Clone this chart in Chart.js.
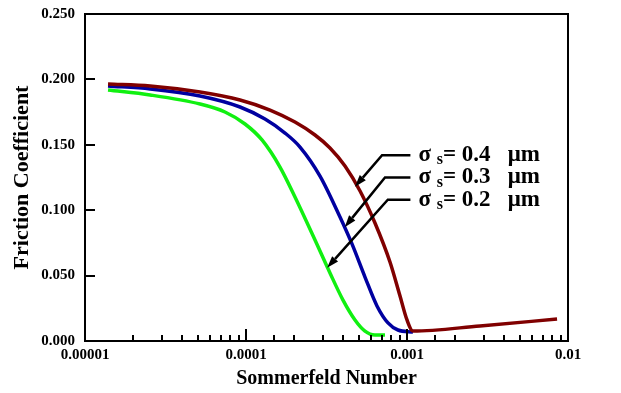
<!DOCTYPE html>
<html>
<head>
<meta charset="utf-8">
<script src="https://cdn.jsdelivr.net/npm/chart.js@4.4.1/dist/chart.umd.min.js"></script>
<style>
  html, body { margin: 0; padding: 0; background: #fff; }
  #wrap { width: 621px; height: 393px; }
</style>
</head>
<body>
<div id="wrap"><canvas id="friction-chart"></canvas></div>
<script>
// surface roughness sigma_s (um) for each curve
const roughness = ["0.4", "0.3", "0.2"];

// Sommerfeld number / friction coefficient
const sommerfeld04 = [1.39e-5, 2.54e-5, 5.18e-5, 9.18e-5, 1.41e-4, 2.015e-4, 2.683e-4, 3.324e-4, 4.12e-4, 5.11e-4, 6.326e-4, 7.84e-4, 9.05e-4, 1.0e-3, 1.09e-3, 2.84e-3, 8.55e-3];
const friction04   = [0.1965, 0.195, 0.1904, 0.1843, 0.1766, 0.1674, 0.1575, 0.1476, 0.1338, 0.1147, 0.0902, 0.0604, 0.0344, 0.0161, 0.0076, 0.0115, 0.0168];

const sommerfeld03 = [1.39e-5, 2.54e-5, 5.18e-5, 9.18e-5, 1.312e-4, 1.747e-4, 2.165e-4, 2.882e-4, 3.836e-4, 4.553e-4, 5.483e-4, 6.51e-4, 7.62e-4, 8.79e-4, 1.09e-3];
const friction03   = [0.195, 0.1927, 0.1873, 0.1789, 0.1697, 0.159, 0.1483, 0.1261, 0.0948, 0.0742, 0.0489, 0.0268, 0.0138, 0.0084, 0.0069];

const sommerfeld02 = [1.39e-5, 2.54e-5, 5.18e-5, 7.4e-5, 9.86e-5, 1.257e-4, 1.626e-4, 2.015e-4, 2.683e-4, 3.324e-4, 4.004e-4, 4.753e-4, 5.483e-4, 6.326e-4, 7.3e-4];
const friction02   = [0.1919, 0.1881, 0.1812, 0.1751, 0.1659, 0.1537, 0.133, 0.1101, 0.0772, 0.052, 0.0313, 0.0161, 0.0076, 0.0046, 0.0046];

// callout arrows (data coords): tip on the curve, elbow, end of the flat part
const calloutTipX   = [4.75e-4, 4.1e-4, 3.19e-4];
const calloutTipY   = [0.118, 0.087, 0.056];
const calloutElbowX = [7.0e-4, 7.3e-4, 7.6e-4];
const calloutEndX   = [1.05e-3, 1.05e-3, 1.05e-3];
const calloutY      = [0.142, 0.125, 0.108];

const yTicks = [0, 0.05, 0.1, 0.15, 0.2, 0.25];

const colors = ["#800000", "#0000a0", "#11f011"];

function toPoints(xs, ys) {
  return xs.map((x, i) => ({ x: x, y: ys[i] }));
}

Chart.defaults.font.family = '"Liberation Serif", "Times New Roman", serif';
Chart.defaults.font.weight = "bold";
Chart.defaults.color = "#000";

const isDecade = (v) => {
  const e = Math.log10(v);
  return Math.abs(e - Math.round(e)) < 1e-6;
};

// frame, inward ticks and the sigma callouts
const extrasPlugin = {
  id: "extras",
  afterDraw(chart) {
    const ctx = chart.ctx;
    const area = chart.chartArea;
    const xs = chart.scales.x;
    const ys = chart.scales.y;
    ctx.save();
    ctx.strokeStyle = "#000";
    ctx.lineWidth = 2;
    ctx.strokeRect(area.left, area.top, area.right - area.left, area.bottom - area.top);

    ctx.beginPath();
    xs.ticks.forEach((t) => {
      const px = Math.round(xs.getPixelForValue(t.value));
      const len = isDecade(t.value) ? 12 : 6;
      ctx.moveTo(px, area.bottom);
      ctx.lineTo(px, area.bottom - len);
    });
    ys.ticks.forEach((t) => {
      const py = Math.round(ys.getPixelForValue(t.value));
      ctx.moveTo(area.left, py);
      ctx.lineTo(area.left + 10, py);
    });
    ctx.stroke();

    // callouts
    ctx.lineWidth = 2.5;
    ctx.fillStyle = "#000";
    roughness.forEach((r, i) => {
      const tx = xs.getPixelForValue(calloutTipX[i]);
      const ty = ys.getPixelForValue(calloutTipY[i]);
      const ex = xs.getPixelForValue(calloutElbowX[i]);
      const ly = ys.getPixelForValue(calloutY[i]);
      const endX = xs.getPixelForValue(calloutEndX[i]);
      const ang = Math.atan2(ty - ly, tx - ex);
      const headLen = 12;
      const bx = tx - headLen * Math.cos(ang);
      const by = ty - headLen * Math.sin(ang);
      ctx.beginPath();
      ctx.moveTo(endX, ly);
      ctx.lineTo(ex, ly);
      ctx.lineTo(bx, by);
      ctx.stroke();
      ctx.beginPath();
      ctx.moveTo(tx, ty);
      ctx.lineTo(bx + 4 * Math.sin(ang), by - 4 * Math.cos(ang));
      ctx.lineTo(bx - 4 * Math.sin(ang), by + 4 * Math.cos(ang));
      ctx.closePath();
      ctx.fill();

      let x = endX + 8;
      ctx.textBaseline = "middle";
      ctx.font = 'bold 23px "Liberation Serif", serif';
      ctx.fillText("σ ", x, ly);
      x += ctx.measureText("σ ").width;
      ctx.font = 'bold 16px "Liberation Serif", serif';
      ctx.fillText("s", x, ly + 5);
      x += ctx.measureText("s").width;
      ctx.font = 'bold 23px "Liberation Serif", serif';
      ctx.fillText("= " + r + "   μm", x, ly);
    });
    ctx.restore();
  },
};

const frictionChart = new Chart(document.getElementById("friction-chart"), {
  type: "line",
  data: {
    datasets: [
      { label: "0.4", data: toPoints(sommerfeld04, friction04), borderColor: colors[0] },
      { label: "0.3", data: toPoints(sommerfeld03, friction03), borderColor: colors[1] },
      { label: "0.2", data: toPoints(sommerfeld02, friction02), borderColor: colors[2] },
    ],
  },
  options: {
    responsive: true,
    maintainAspectRatio: false,
    animation: false,
    layout: { padding: { top: 14, right: 53, bottom: 0, left: 0 } },
    elements: {
      point: { radius: 0 },
      line: { borderWidth: 3.5, cubicInterpolationMode: "monotone", fill: false },
    },
    plugins: { legend: { display: false }, tooltip: { enabled: false } },
    scales: {
      x: {
        type: "logarithmic",
        min: 1e-5,
        max: 1e-2,
        grid: { display: false, drawTicks: false },
        border: { display: false },
        ticks: {
          autoSkip: false,
          maxRotation: 0,
          padding: 5,
          font: { size: 15, weight: "bold" },
          callback: (v) => (isDecade(v) ? v.toFixed(-Math.round(Math.log10(v))) : ""),
        },
        title: {
          display: true,
          text: "Sommerfeld Number",
          font: { size: 20, weight: "bold" },
          padding: { top: 0, bottom: 2 },
        },
        afterFit: (s) => {
          s.height = 52;
          s.paddingLeft = 0;
          s.paddingRight = 0;
        },
      },
      y: {
        min: 0,
        max: 0.25,
        grid: { display: false, drawTicks: false },
        border: { display: false },
        afterBuildTicks: (s) => {
          s.ticks = yTicks.map((v) => ({ value: v }));
        },
        ticks: {
          padding: 10,
          font: { size: 15, weight: "bold" },
          callback: (v) => Number(v).toFixed(3),
        },
        title: {
          display: true,
          text: "Friction Coefficient",
          font: { size: 22, weight: "bold" },
          padding: { top: 9, bottom: 0 },
        },
        afterFit: (s) => {
          s.width = 85;
          s.paddingTop = 0;
          s.paddingBottom = 0;
        },
      },
    },
  },
  plugins: [extrasPlugin],
});
</script>
</body>
</html>
